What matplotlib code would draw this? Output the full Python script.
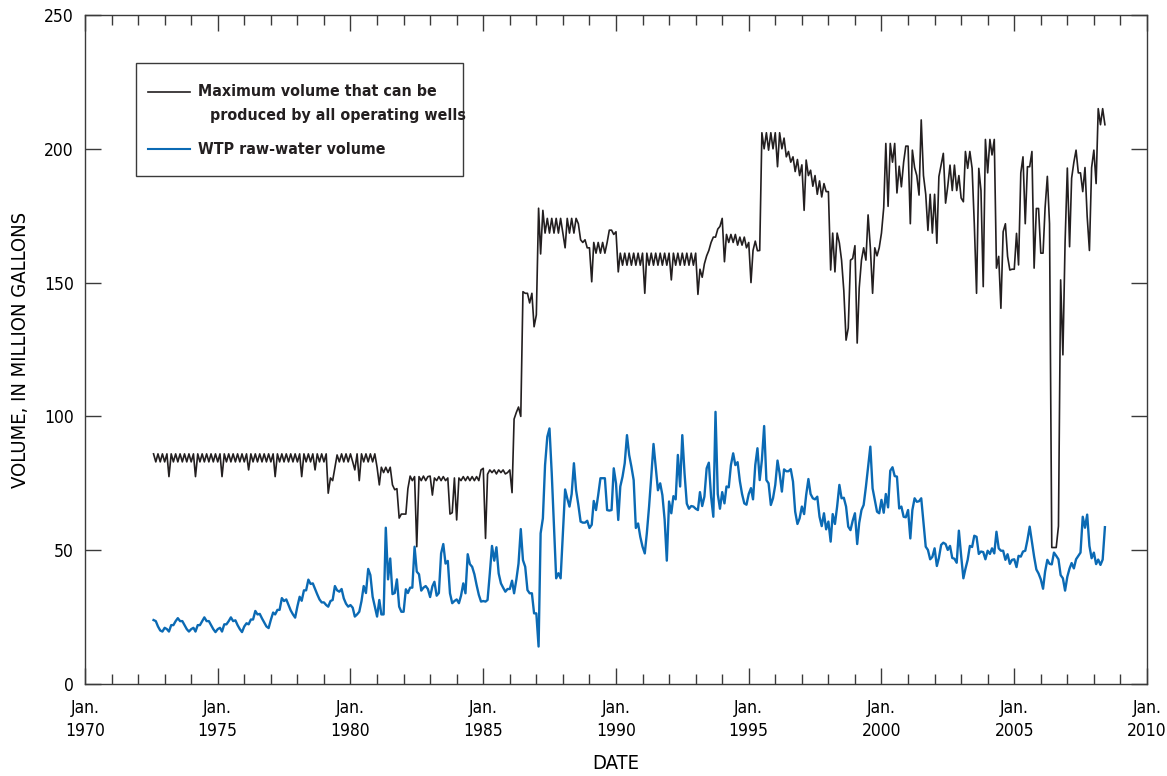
import matplotlib
matplotlib.use("Agg")
import matplotlib.pyplot as plt
import matplotlib.dates as mdates
from matplotlib.lines import Line2D
from matplotlib.patches import Rectangle
import pandas as pd
from datetime import datetime

# Monthly values, first month is Aug 1972, last is Jun 2008.
# Maximum volume that can be produced by all operating wells (million gallons)
wells_1972_79 = [
    86, 83, 86, 83, 86,                                          # 1972 Aug-Dec
    83, 86, 77.5, 86, 83, 86, 83, 86, 83, 86, 83, 86,            # 1973
    83, 86, 77.5, 86, 83, 86, 83, 86, 83, 86, 83, 86,            # 1974
    83, 86, 77.5, 86, 83, 86, 83, 86, 83, 86, 83, 86,            # 1975
    83, 86, 80, 86, 83, 86, 83, 86, 83, 86, 83, 86,              # 1976
    83, 86, 77.5, 86, 83, 86, 83, 86, 83, 86, 83, 86,            # 1977
    83, 86, 77.5, 86, 83, 86, 83, 86, 80, 86, 83, 86,            # 1978
    83, 86, 71.3, 77, 76, 81, 85.6, 83, 86, 83, 86, 83,          # 1979
]
wells_1980_89 = [
    86, 83, 80, 86, 76, 86, 83, 86, 83, 86, 83, 86,              # 1980
    81, 74.4, 81, 79, 81, 79, 81, 74.4, 72.6, 73, 62, 63.5,      # 1981
    63.5, 63.5, 73, 77.7, 76, 77.5, 51.3, 77.5, 76, 77.7, 76, 77.5,  # 1982
    77.7, 70.6, 77, 76, 77.5, 76, 77.5, 76, 77, 63.5, 64, 77,    # 1983
    61.3, 77, 76, 77.5, 76, 77.5, 76, 77.5, 76, 77.5, 76, 80,    # 1984
    80.6, 54.4, 78.4, 80, 79, 80, 78.5, 80, 79, 80, 78.5, 79,    # 1985
    80, 71.5, 99, 101.5, 103.5, 100, 146.6, 146, 146, 142.4, 146, 133.5,  # 1986
    137.9, 177.8, 160.7, 177, 168.5, 174, 168.5, 174, 168.5, 174, 168.5, 174,  # 1987
    168.5, 163, 174, 168.5, 174, 168.5, 174, 172, 166, 165, 166, 163,  # 1988
    163, 150.3, 165, 161, 165, 161, 165, 161, 165, 169.6, 169.6, 168,  # 1989
]
wells_1990_99 = [
    169, 154, 161, 156.5, 161, 156.5, 161, 156.5, 161, 156.5, 161, 156.5,  # 1990
    161, 146, 161, 156.5, 161, 156.5, 161, 156.5, 161, 156.5, 161, 156.5,  # 1991
    161, 151, 161, 156.5, 161, 156.5, 161, 156.5, 161, 156.5, 161, 156.5,  # 1992
    161, 145.6, 155, 152, 157, 160, 162, 165, 167, 167, 170, 171,  # 1993
    174, 157.8, 168, 165, 168, 165, 168, 164, 167, 164, 167, 163,  # 1994
    165, 150, 162, 165.5, 161.9, 162, 206, 200, 206, 199.5, 206, 200,  # 1995
    206, 193.3, 206, 200, 204, 197, 199, 195, 197, 191.5, 196, 190,  # 1996
    194, 177, 195.8, 190, 192, 186, 190, 183, 188, 182, 187, 184,  # 1997
    184, 154.7, 168.5, 154, 168.5, 164.8, 158.4, 147, 128.5, 133, 158.4, 159,  # 1998
    163.8, 127.4, 148, 158.4, 163, 158.4, 175.3, 163, 146, 163, 160, 163,  # 1999
]
wells_2000_08 = [
    168.5, 178, 202, 178.5, 202, 195, 202, 183.5, 193.5, 185.8, 195, 201,  # 2000
    201, 172, 199.5, 193, 190, 182.7, 210.8, 190, 183, 169.5, 183, 168.5,  # 2001
    183, 164.7, 189.6, 194, 198.3, 179.7, 186, 193.9, 184.4, 193.9, 184.4, 190,  # 2002
    181.6, 180.2, 199, 192.7, 199, 192.7, 172, 146, 192.7, 184.4, 148.5, 203.5,  # 2003
    191, 203.5, 197.7, 203.5, 155.4, 159.8, 140.4, 169, 172, 159.8, 154.7, 155,  # 2004
    155, 168.4, 156.6, 191, 197, 172, 193.3, 193.3, 199, 155.4, 177.7, 177.7,  # 2005
    161, 161, 178, 189.7, 172, 51, 51, 51, 59, 151, 123, 165,    # 2006
    192.8, 163.4, 189, 195, 199.5, 191, 191, 184, 193, 174.7, 162, 193,  # 2007
    199.5, 187, 215, 209, 215, 209,                              # 2008 Jan-Jun
]

# WTP raw-water volume (million gallons)
wtp_1972_79 = [
    23.9, 23.5, 21.5, 20, 19.6,                                  # 1972 Aug-Dec
    21, 20.5, 19.6, 22, 22, 23.5, 24.6, 23.5, 23.5, 22, 20.5, 19.6,  # 1973
    20.5, 21, 19.6, 22, 22, 23.5, 24.9, 23.5, 23.5, 22, 20.5, 19.4,  # 1974
    20.5, 21, 19.6, 22.3, 22.3, 23.5, 24.9, 23.5, 23.8, 22, 20.5, 19.4,  # 1975
    21.5, 22.7, 22.3, 24.1, 24.1, 27.3, 26, 26.2, 24.5, 23, 21.5, 20.9,  # 1976
    24, 26.7, 26, 27.7, 27.7, 32.1, 31, 31.6, 29.5, 27.5, 26, 24.8,  # 1977
    29, 32.6, 31.1, 35, 35, 39, 37.4, 37.6, 35.5, 33.5, 31.6, 30.5,  # 1978
    30.5, 29.5, 28.9, 31, 31.4, 36.6, 35, 34.5, 35.5, 32, 30, 28.9,  # 1979
]
wtp_1980_89 = [
    29.5, 28.5, 25.2, 26, 27, 31, 36.6, 34, 43, 40.7, 32.6, 29,  # 1980
    25.2, 31.4, 26, 26, 58.4, 39.1, 46.9, 33.6, 34, 39.1, 28.9, 27,  # 1981
    27, 35.4, 34, 36, 36, 51.3, 42, 41, 34.9, 36, 36.6, 35.5,    # 1982
    32.5, 36.5, 38.2, 33, 34, 48.8, 52.3, 45, 46, 33.9, 30.2, 31,  # 1983
    31.6, 30.2, 33, 37.6, 33.9, 48.5, 44.8, 43.8, 41, 37, 33.3, 30.8,  # 1984
    31, 30.8, 31.4, 41.3, 51.6, 46.1, 51.1, 41.3, 37.6, 36, 34.5, 35.5,  # 1985
    35.5, 38.6, 33.9, 39, 45, 57.9, 46.3, 43.8, 35.1, 33.9, 33.9, 26.4,  # 1986
    26.4, 14, 56.3, 61.9, 81.8, 92.4, 95.5, 78.7, 58.9, 39.5, 41.4, 39.5,  # 1987
    56.3, 72.7, 69.4, 66.3, 71, 82.5, 72.4, 66.9, 60.7, 60.3, 60.3, 61,  # 1988
    58.3, 59.5, 68.4, 65, 70.6, 76.9, 76.9, 76.9, 65, 64.8, 65, 80.6,  # 1989
]
wtp_1990_99 = [
    75, 61.3, 73.8, 77.5, 82.5, 93, 85.6, 81.2, 76.2, 58.3, 60, 55,  # 1990
    51.3, 48.8, 56.3, 66.3, 77.5, 89.7, 81, 72.4, 75, 70.6, 61.4, 46.1,  # 1991
    68.2, 63.8, 70.2, 69, 85.6, 73.8, 93, 78.7, 67.4, 65.5, 66.5, 66.3,  # 1992
    65.5, 65, 71.7, 66.5, 70, 80.6, 82.7, 70, 62.5, 101.7, 71, 65.5,  # 1993
    71.7, 67.5, 73.8, 73.5, 81.8, 86.2, 81.8, 82.9, 75.8, 71, 67.5, 67,  # 1994
    71, 73.2, 69, 81.8, 88.1, 76.2, 83.7, 96.4, 76.2, 75, 66.9, 69.4,  # 1995
    74.4, 83.5, 78.7, 71.9, 80.2, 79.5, 79.5, 80.3, 75.6, 64.4, 59.8, 61.9,  # 1996
    66.3, 63.5, 70.6, 76.6, 71, 69.4, 69, 70, 62.5, 59, 63.8, 57.8,  # 1997
    60.7, 53.2, 63.5, 59.8, 66.3, 74.4, 69.4, 69.6, 66.3, 58.8, 57.5, 61,  # 1998
    63.8, 52.3, 60.2, 65, 66.9, 73.7, 81.2, 88.7, 73.1, 68.8, 64.4, 63.8,  # 1999
]
wtp_2000_08 = [
    68.8, 64, 71, 66, 79.7, 81, 77.7, 77.5, 65.6, 66.3, 62.5, 62.3,  # 2000
    65, 54.4, 65, 69.4, 68.1, 68.3, 69.4, 60.2, 51.3, 50.1, 46.6, 47.5,  # 2001
    50.7, 44.1, 47.1, 52, 52.8, 52.3, 50.1, 51.6, 47.1, 46.8, 45.3, 57.3,  # 2002
    48, 39.5, 43, 46.4, 51.6, 51.2, 55.4, 55, 48.6, 49.5, 49.3, 46.6,  # 2003
    49.8, 48.6, 50.7, 48.8, 56.9, 50.7, 49.8, 49.8, 46.4, 48.5, 44.9, 46.4,  # 2004
    46.6, 43.7, 47.9, 47.6, 49.5, 49.8, 53.8, 58.8, 53.2, 47.6, 42.8, 41.3,  # 2005
    39.1, 35.6, 42, 46.4, 44.9, 44.7, 49.1, 47.9, 46.6, 40.7, 39.5, 34.9,  # 2006
    40.1, 43.2, 45.2, 43.2, 46.6, 47.9, 49.1, 62.5, 58.4, 63.3, 51.6, 47,  # 2007
    49.1, 44.8, 46.5, 44.5, 46.5, 58.6,                          # 2008 Jan-Jun
]

wells = wells_1972_79 + wells_1980_89 + wells_1990_99 + wells_2000_08
wtp = wtp_1972_79 + wtp_1980_89 + wtp_1990_99 + wtp_2000_08
dates = pd.date_range("1972-08-01", periods=len(wells), freq="MS")
assert len(wells) == len(wtp)

# the original uses a narrow sans; DejaVu Sans Condensed is the closest here
plt.rcParams["font.family"] = ["DejaVu Sans"]
plt.rcParams["font.stretch"] = "condensed"

BLACK = "#231f20"
BLUE = "#0b6ab4"
FS = 12.5

fig = plt.figure(figsize=(11.67, 7.76), dpi=100)
ax = fig.add_axes([85 / 1167, 92 / 776, 1062 / 1167, 669 / 776])

ax.plot(dates, wells, color=BLACK, lw=1.2)
ax.plot(dates, wtp, color=BLUE, lw=1.7)

ax.set_xlim(datetime(1970, 1, 1), datetime(2010, 1, 1))
ax.set_ylim(0, 250)
ax.xaxis.set_major_locator(mdates.YearLocator(5))
ax.xaxis.set_minor_locator(mdates.YearLocator(1))
ax.xaxis.set_major_formatter(mdates.DateFormatter("Jan.\n%Y"))
ax.set_yticks(range(0, 251, 50))

ax.tick_params(which="both", direction="in", top=True, right=True,
               color="#3a3a3a", width=1.0, labelsize=FS)
ax.tick_params(which="major", length=11.5)
ax.tick_params(which="minor", length=7)
ax.tick_params(axis="x", pad=11)
ax.tick_params(axis="y", pad=8)
for lab in ax.get_xticklabels():
    lab.set_linespacing(1.35)
for s in ax.spines.values():
    s.set_color("#3a3a3a")
    s.set_linewidth(1.0)

ax.set_xlabel("DATE", fontsize=14.5, labelpad=10)
ax.set_ylabel("VOLUME, IN MILLION GALLONS", fontsize=14.5, labelpad=10)

# legend box drawn by hand to keep the indented second line
ax.add_patch(Rectangle((0.048, 0.759), 0.308, 0.169, transform=ax.transAxes,
                       fill=False, edgecolor="#3a3a3a", lw=1.0))
ax.add_line(Line2D([0.0593, 0.0989], [0.885, 0.885], transform=ax.transAxes,
                   color=BLACK, lw=1.2))
ax.add_line(Line2D([0.0593, 0.0989], [0.7997, 0.7997], transform=ax.transAxes,
                   color=BLUE, lw=1.5))
leg_kw = dict(transform=ax.transAxes, fontsize=11.4, fontweight="bold",
              va="center", ha="left", color="#231f20")
ax.text(0.1064, 0.885, "Maximum volume that can be", **leg_kw)
ax.text(0.1177, 0.8505, "produced by all operating wells", **leg_kw)
ax.text(0.1064, 0.7997, "WTP raw-water volume", **leg_kw)

fig.savefig("out.png", dpi=100)
